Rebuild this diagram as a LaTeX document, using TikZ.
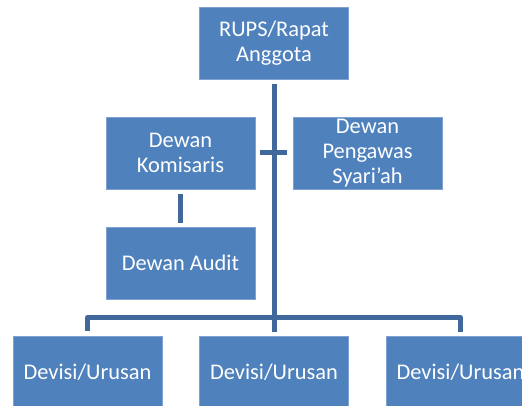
\documentclass[tikz,border=0pt]{standalone}
\usepackage{fontspec}
\setmainfont{Carlito}
\usetikzlibrary{calc}

\definecolor{boxblue}{HTML}{4F81BD}
\definecolor{boxedge}{HTML}{7FA0D0}
\definecolor{linkblue}{HTML}{41689A}

\tikzset{
    unit/.style={draw=boxedge, line width=0.6pt, fill=boxblue, text=white,
        minimum width=149pt, minimum height=72pt, inner sep=1pt,
        align=center, font=\fontsize{22.4}{25}\selectfont},
    link/.style={draw=linkblue, line width=5pt, shorten <=5pt, shorten >=4pt}
}

\begin{document}
\begin{tikzpicture}[x=1pt, y=-1pt]
        \clip (0,0) rectangle (522,406);

        \node[unit] (rups) at (274,43) {RUPS/Rapat\\Anggota};
        \node[unit] (komisaris) at (180.5,153) {Dewan\\Komisaris};
        \node[unit] (pengawas) at (367.5,153) {Dewan\\Pengawas\\Syari'ah};
        \node[unit] (audit) at (180.5,263) {Dewan Audit};
        \node[unit] (div1) at (87.5,372) {Devisi/Urusan};
        \node[unit] (div2) at (274,372) {Devisi/Urusan};
        \node[unit] (div3) at (460.5,372) {Devisi/Urusan};

        \coordinate (bus) at (274,317.5);

        % garis utama dan cabang
        \draw[link] (rups) -- (div2);
        \draw[link, shorten <=5pt, shorten >=6pt] (komisaris.east) -- (pengawas.west);
        \draw[link] (komisaris) -- (audit);
        \draw[link, line join=round] (div1.north) |- (bus) -| (div3.north);
    \end{tikzpicture}
\end{document}
